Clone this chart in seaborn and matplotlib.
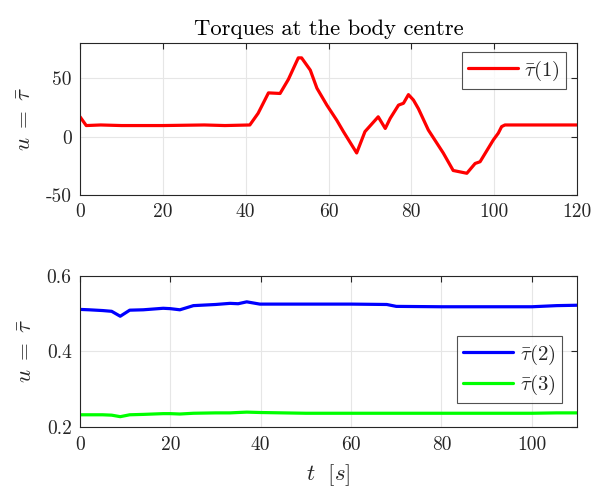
import matplotlib
matplotlib.use("Agg")
import matplotlib.pyplot as plt
import seaborn as sns
import pandas as pd

# ---- data ----
t1 = [0, 1.5, 5, 10, 20, 30, 35, 41, 43, 45.5, 48.3, 50.3, 52.7, 53.5, 55.6, 57.2, 59.6,
      62.0, 63.6, 66.8, 68.8, 72.0, 73.7, 74.9, 76.9, 78.1, 79.3, 80.5, 81.7, 84.1,
      87.7, 90.1, 93.4, 95.4, 96.6, 99.8, 101.0, 101.8, 102.6, 110, 120]
tau1 = [17, 9.5, 10, 9.5, 9.5, 10, 9.5, 10, 20, 37.5, 37, 49, 67.5, 67.5, 57, 41.5, 27,
        14, 4.3, -14, 4.3, 17, 7, 15.7, 27, 28.6, 36, 31.4, 24, 5.7,
        -14, -29, -31.4, -23, -21.5, -2.8, 3, 8.6, 10, 10, 10]

t2 = [0, 2, 5, 7, 8.9, 11, 14, 18.4, 20, 22.1, 25.1, 30, 33.2, 35, 36.9, 39.8,
      50, 60, 67.9, 70, 80, 90, 100, 105.5, 110]
tau2 = [0.511, 0.510, 0.508, 0.506, 0.493, 0.509, 0.510, 0.514, 0.513, 0.510, 0.521,
        0.524, 0.527, 0.526, 0.531, 0.525, 0.525, 0.525, 0.524, 0.519, 0.518, 0.518,
        0.518, 0.521, 0.522]
tau3 = [0.233, 0.233, 0.233, 0.232, 0.228, 0.233, 0.234, 0.236, 0.236, 0.235, 0.237,
        0.238, 0.238, 0.239, 0.240, 0.239, 0.237, 0.237, 0.237, 0.237, 0.237, 0.237,
        0.237, 0.238, 0.238]

top_xticks = [0, 20, 40, 60, 80, 100, 120]
top_yticks = [-50, 0, 50]
bot_xticks = [0, 20, 40, 60, 80, 100]
bot_yticks = [0.2, 0.4, 0.6]

sns.set_style("white")
plt.rcParams["font.family"] = ["cmr10", "DejaVu Serif"]
plt.rcParams["mathtext.fontset"] = "cm"
plt.rcParams["axes.unicode_minus"] = False
plt.rcParams["font.size"] = 14

fig = plt.figure(figsize=(6.04, 4.93), dpi=100)
ax1 = fig.add_axes([0.1325, 0.6045, 0.8228, 0.3077])
ax2 = fig.add_axes([0.1325, 0.1333, 0.8228, 0.3075])

df1 = pd.DataFrame({"t": t1, "v": tau1})
sns.lineplot(data=df1, x="t", y="v", ax=ax1, color="#ff0000", linewidth=2.3,
             label=r"$\bar{\tau}(1)$")
df2 = pd.DataFrame({"t": t2, "v": tau2})
df3 = pd.DataFrame({"t": t2, "v": tau3})
sns.lineplot(data=df2, x="t", y="v", ax=ax2, color="#0000ff", linewidth=2.3,
             label=r"$\bar{\tau}(2)$")
sns.lineplot(data=df3, x="t", y="v", ax=ax2, color="#00ff00", linewidth=2.3,
             label=r"$\bar{\tau}(3)$")

edge = "#262626"
for ax in (ax1, ax2):
    ax.grid(True, color="#e6e6e6", linewidth=0.8)
    ax.set_axisbelow(True)
    for s in ax.spines.values():
        s.set_color(edge)
        s.set_linewidth(0.8)
    ax.tick_params(direction="in", length=4, width=0.8, color=edge,
                   top=True, right=True, labelsize=14, labelcolor="#262626", pad=6)
    ax.set_ylabel(r"$u\;=\;\bar{\tau}$", fontsize=16.5, color="#262626", labelpad=8)
    ax.set_xlabel("")

ax1.set_xlim(0, 120)
ax1.set_ylim(-50, 80)
ax1.set_xticks(top_xticks)
ax1.set_yticks(top_yticks)
ax1.set_xticklabels([str(v) for v in top_xticks])
ax1.set_yticklabels([str(v) for v in top_yticks])
ax1.set_title("Torques at the body centre", fontsize=16.3, color="#000000", pad=6)

ax2.set_xlim(0, 110)
ax2.set_ylim(0.2, 0.6)
ax2.set_xticks(bot_xticks)
ax2.set_yticks(bot_yticks)
ax2.set_xticklabels([str(v) for v in bot_xticks])
ax2.set_yticklabels(["%.1f" % v for v in bot_yticks])
ax2.set_xlabel(r"$t\ \ [s]$", fontsize=16.5, color="#262626", labelpad=6)

leg_kw = dict(frameon=True, fancybox=False, fontsize=15, handlelength=2.4,
              handletextpad=0.3, borderpad=0.3, labelspacing=0.3, borderaxespad=0)
l1 = ax1.legend(loc="upper right", bbox_to_anchor=(0.978, 0.94), **leg_kw)
l2 = ax2.legend(loc="lower right", bbox_to_anchor=(0.969, 0.158), **leg_kw)
for l in (l1, l2):
    l.get_frame().set_edgecolor(edge)
    l.get_frame().set_linewidth(0.8)

fig.savefig("out.png", dpi=100)
